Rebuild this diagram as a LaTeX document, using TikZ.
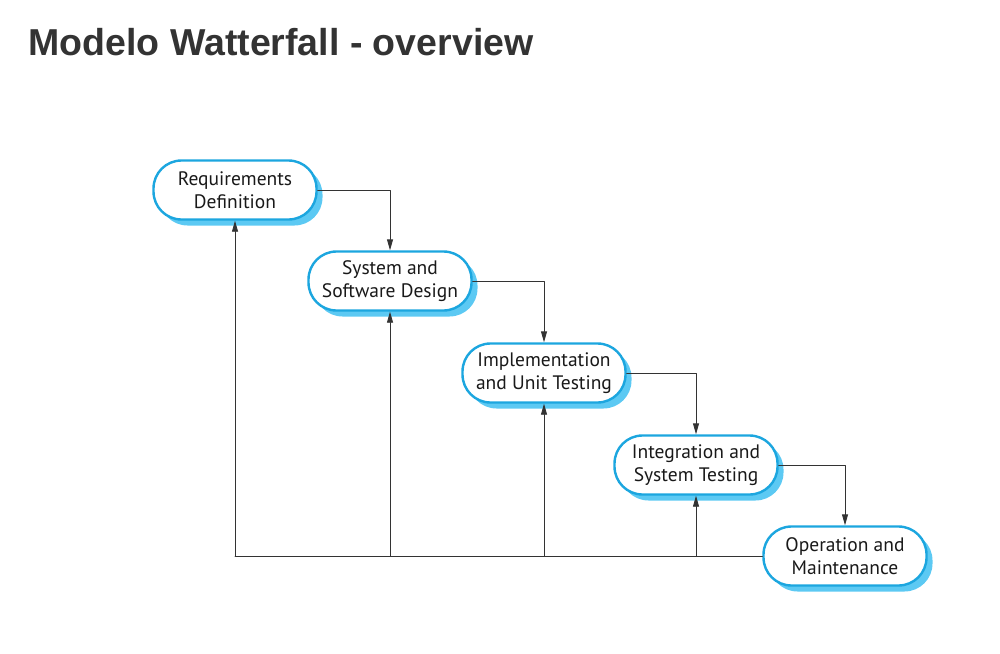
\documentclass[tikz,border=0pt]{standalone}
\usepackage{fontspec}
\setmainfont{PT Sans}
\newfontfamily\titlefont{Liberation Sans}
\usetikzlibrary{arrows.meta}
\usetikzlibrary{shadows}
\definecolor{boxblue}{HTML}{1CA6DF}
\definecolor{shadeblue}{HTML}{5CC9F3}
\definecolor{titlegray}{HTML}{333333}

\tikzset{
  phase/.style={rectangle, rounded corners=28pt, draw=boxblue, line width=2.4pt,
    fill=white, minimum width=163pt, minimum height=59pt, align=center,
    font=\fontsize{19.5}{22.5}\selectfont, text=black!90,
    drop shadow={shadow xshift=6pt, shadow yshift=-6pt, fill=shadeblue, opacity=1}},
  flow/.style={line width=0.9pt, draw=black!80}
}

\begin{document}
\begin{tikzpicture}[line cap=round,line join=round,>={Triangle[length=11pt,width=6pt]},x=1pt,y=-1pt]
\useasboundingbox (0,0) rectangle (1000,653);
\node [anchor=base west, text=titlegray] (title) at (25,55)
  {\titlefont\bfseries\fontsize{37.5}{40}\selectfont Modelo Watterfall - overview};
%
\node [phase] (req) at (235,190) {Requirements\\Definition};
\node [phase] (sys) at (390,281) {System and\\Software Design};
\node [phase] (imp) at (544,373) {Implementation\\and Unit Testing};
\node [phase] (int) at (696,465) {Integration and\\System Testing};
\node [phase] (op) at (845,556) {Operation and\\Maintenance};
%
\draw [flow,->] (req.east) -| (sys.north);
\draw [flow,->] (sys.east) -| (imp.north);
\draw [flow,->] (imp.east) -| (int.north);
\draw [flow,->] (int.east) -| (op.north);
% feedback
\coordinate (back1) at (req.south |- op.west);
\coordinate (back2) at (sys.south |- op.west);
\coordinate (back3) at (imp.south |- op.west);
\coordinate (back4) at (int.south |- op.west);
\draw [flow] (op.west) -- (back1);
\draw [flow,->] (back1) -- (req.south);
\draw [flow,->] (back2) -- (sys.south);
\draw [flow,->] (back3) -- (imp.south);
\draw [flow,->] (back4) -- (int.south);
\end{tikzpicture}
\end{document}
